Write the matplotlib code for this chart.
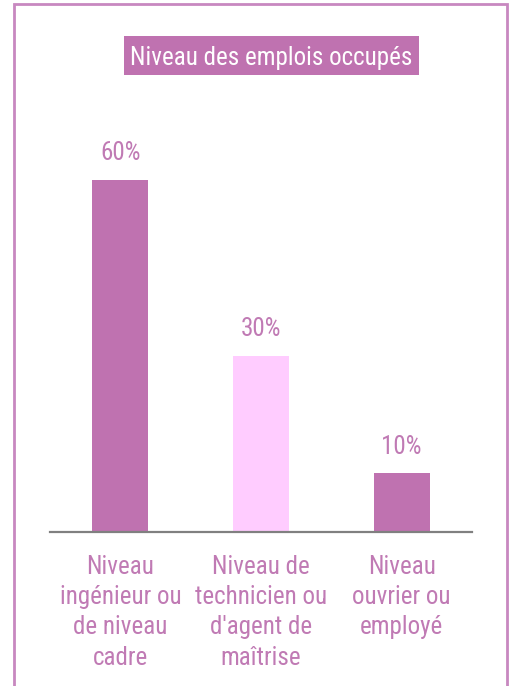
import matplotlib.pyplot as plt
import matplotlib.patches as patches

# data
categories = ["Niveau\ningénieur ou\nde niveau\ncadre",
              "Niveau de\ntechnicien ou\nd'agent de\nmaîtrise",
              "Niveau\nouvrier ou\nemployé"]
values = [60, 30, 10]
value_labels = ["60%", "30%", "10%"]
title = "Niveau des emplois occupés"

purple = "#bf72b0"
pink = "#ffccff"
text_col = "#c07ab4"
bar_colors = [purple, pink, purple]

plt.rcParams['font.family'] = ['Roboto Condensed', 'Liberation Sans', 'DejaVu Sans']
fs = 18

W, H = 514, 686
fig = plt.figure(figsize=(W / 100, H / 100), dpi=100)

# outer frame (bottom edge runs off the picture)
frame = patches.Rectangle((14 / W, -0.05), (507 - 14) / W, 1.05 - 4 / H,
                          transform=fig.transFigure, fill=False,
                          edgecolor="#c888c0", linewidth=2, clip_on=False)
fig.patches.append(frame)

# title box
box = patches.Rectangle((124 / W, 1 - 75 / H), (419 - 124) / W, 39 / H,
                        transform=fig.transFigure, facecolor=purple,
                        edgecolor="none")
fig.patches.append(box)
fig.text(271.5 / W, 1 - 65.5 / H, title, color="white", fontsize=fs,
         ha="center", va="baseline")

ymax = 70
ax = fig.add_axes([50 / W, (H - 532) / H, 422 / W, ymax * 5.87 / H])
x = range(len(values))
bars = ax.bar(x, values, width=0.4, color=bar_colors)
ax.set_xlim(-0.5, 2.5)
ax.set_ylim(0, ymax)

for b, lab in zip(bars, value_labels):
    ax.annotate(lab, (b.get_x() + b.get_width() / 2, b.get_height()),
                xytext=(0, 14), textcoords="offset points",
                ha="center", va="baseline", fontsize=fs, color=text_col)

ax.set_xticks(list(x))
ax.set_xticklabels(categories, fontsize=fs, color=text_col, linespacing=1.33)
ax.tick_params(axis="x", length=0, pad=16.5)
ax.set_yticks([])
for s in ["left", "right", "top"]:
    ax.spines[s].set_visible(False)
ax.spines["bottom"].set_color("#808080")
ax.spines["bottom"].set_linewidth(1.6)
ax.patch.set_alpha(0)

fig.savefig("out.png", dpi=100)
